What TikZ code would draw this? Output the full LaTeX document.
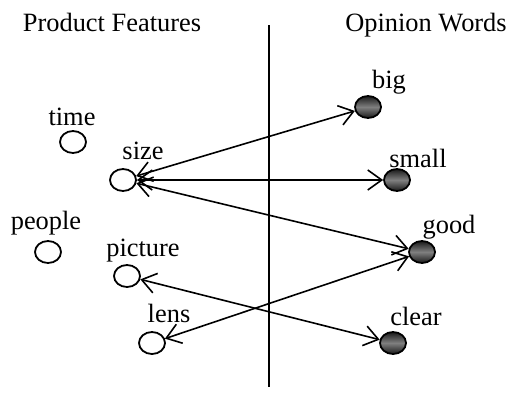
\documentclass[tikz,border=0pt]{standalone}
\usepackage{fontspec}
\setmainfont{Liberation Serif}
\usetikzlibrary{shapes.geometric, arrows.meta}

\tikzset{
  feature/.style={ellipse, draw, line width=0.9pt, minimum width=13pt, minimum height=11pt, inner sep=0pt},
  opinion/.style={feature, top color=black!90, bottom color=black!90, middle color=black!50},
  word/.style={anchor=base, inner sep=0pt},
  link/.style={line width=0.8pt, {Straight Barb[length=7pt,width=10pt]}-{Straight Barb[length=7pt,width=10pt]}},
}

\begin{document}
\begin{tikzpicture}[x=0.5pt, y=-0.5pt, font=\fontsize{13.2}{16}\selectfont]
\useasboundingbox (0,0) rectangle (512,396);

\node[word] (pf) at (112,31) {Product Features};
\node[word] (ow) at (426,31) {Opinion Words};
\coordinate (top) at (269,25);
\coordinate (bottom) at (269,387);
\draw[line width=1pt] (top) -- (bottom);

\node[feature] (time) at (73,142) {};
\node[feature] (size) at (123,180) {};
\node[feature] (people) at (48,252) {};
\node[feature] (picture) at (127,276) {};
\node[feature] (lens) at (152,343) {};
\node[word] (time-t) at (72,125) {time};
\node[word] (size-t) at (143,159) {size};
\node[word] (people-t) at (46,229) {people};
\node[word] (picture-t) at (143,256) {picture};
\node[word] (lens-t) at (169,322) {lens};

\node[opinion] (big) at (368,107) {};
\node[opinion] (small) at (397,180) {};
\node[opinion] (good) at (422,252) {};
\node[opinion] (clear) at (393,343) {};
\node[word] (big-t) at (389,88) {big};
\node[word] (small-t) at (418,167) {small};
\node[word] (good-t) at (449,233) {good};
\node[word] (clear-t) at (416,325) {clear};

\draw[link] (size) -- (big);
\draw[link] (size) -- (small);
\draw[link] (size) -- (good);
\draw[link] (picture) -- (clear);
\draw[link] (lens) -- (good);
\end{tikzpicture}
\end{document}
